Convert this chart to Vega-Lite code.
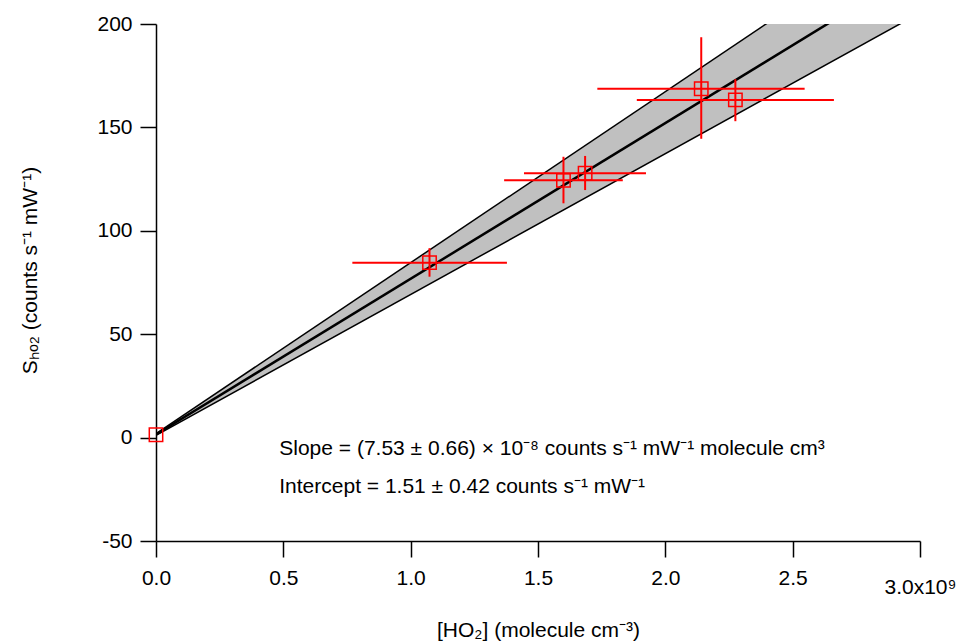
{
  "$schema": "https://vega.github.io/schema/vega-lite/v6.json",
  "width": 764,
  "height": 517,
  "autosize": "none",
  "padding": {"left": 156, "top": 24, "right": 41, "bottom": 102},
  "background": "white",
  "config": {
    "view": {"stroke": null},
    "font": "Liberation Sans",
    "axis": {
      "domainColor": "black",
      "domainWidth": 1.5,
      "tickColor": "black",
      "tickWidth": 1.5,
      "tickSize": 16,
      "grid": false,
      "labelFont": "Liberation Sans",
      "labelFontSize": 21,
      "labelColor": "black",
      "titleFont": "Liberation Sans",
      "titleFontSize": 21,
      "titleFontWeight": "normal",
      "titleColor": "black"
    }
  },
  "datasets": {
    "fit": [
      {"x": 0, "lo": 1.1, "hi": 1.9, "fit": 1.51},
      {"x": 3000000000, "lo": 205.4, "hi": 250.0, "fit": 227.4}
    ],
    "pts": [
      {"x": 0, "y": 1.4, "xlo": 0, "xhi": 0, "ylo": 1.4, "yhi": 1.4},
      {"x": 1074000000, "y": 84.6, "xlo": 771000000, "xhi": 1378000000, "ylo": 77.8, "yhi": 91.6},
      {"x": 1600000000, "y": 124.4, "xlo": 1367000000, "xhi": 1833000000, "ylo": 113.3, "yhi": 135.8},
      {"x": 1685000000, "y": 127.8, "xlo": 1445000000, "xhi": 1924000000, "ylo": 119.7, "yhi": 136.2},
      {"x": 2141000000, "y": 168.7, "xlo": 1733000000, "xhi": 2547000000, "ylo": 144.5, "yhi": 193.6},
      {"x": 2275000000, "y": 163.3, "xlo": 1888000000, "xhi": 2662000000, "ylo": 153.0, "yhi": 173.3}
    ],
    "notes": [
      {"x": 484000000, "y": -5.5, "label": "Slope = (7.53 ± 0.66) × 10⁻⁸ counts s⁻¹ mW⁻¹ molecule cm³"},
      {"x": 484000000, "y": -23.8, "label": "Intercept = 1.51 ± 0.42 counts s⁻¹ mW⁻¹"}
    ]
  },
  "layer": [
    {
      "data": {"name": "fit"},
      "mark": {"type": "area", "color": "#c0c0c0", "clip": true},
      "encoding": {
        "x": {
          "field": "x", "type": "quantitative",
          "scale": {"domain": [0, 3000000000], "nice": false, "zero": false},
          "axis": {
            "title": "[HO₂] (molecule cm⁻³)",
            "values": [0, 500000000, 1000000000, 1500000000, 2000000000, 2500000000, 3000000000],
            "labelExpr": "datum.value >= 3000000000 ? '3.0x10⁹' : format(datum.value / 1000000000, '.1f')",
            "labelPadding": {"condition": {"test": "datum.value >= 3000000000", "value": 19}, "value": 10},
            "labelFlush": false,
            "titlePadding": 22
          }
        },
        "y": {
          "field": "lo", "type": "quantitative",
          "scale": {"domain": [-50, 200], "nice": false, "zero": false},
          "axis": {
            "title": "Sₕₒ₂ (counts s⁻¹ mW⁻¹)",
            "values": [-50, 0, 50, 100, 150, 200],
            "labelExpr": "datum.value < 0 ? '-' + toString(-datum.value) : toString(datum.value)",
            "labelPadding": 8,
            "labelFlush": false,
            "titleX": -116,
            "titleY": 246,
            "titleAngle": -90,
            "titleAlign": "center",
            "titleBaseline": "bottom"
          }
        },
        "y2": {"field": "hi"}
      }
    },
    {
      "data": {"name": "fit"},
      "mark": {"type": "line", "color": "black", "strokeWidth": 1.5, "clip": true},
      "encoding": {
        "x": {"field": "x", "type": "quantitative"},
        "y": {"field": "lo", "type": "quantitative"}
      }
    },
    {
      "data": {"name": "fit"},
      "mark": {"type": "line", "color": "black", "strokeWidth": 1.5, "clip": true},
      "encoding": {
        "x": {"field": "x", "type": "quantitative"},
        "y": {"field": "hi", "type": "quantitative"}
      }
    },
    {
      "data": {"name": "fit"},
      "mark": {"type": "line", "color": "black", "strokeWidth": 2.5, "clip": true},
      "encoding": {
        "x": {"field": "x", "type": "quantitative"},
        "y": {"field": "fit", "type": "quantitative"}
      }
    },
    {
      "data": {"name": "pts"},
      "mark": {"type": "rule", "color": "#ff0000", "strokeWidth": 2},
      "encoding": {
        "x": {"field": "xlo", "type": "quantitative"},
        "x2": {"field": "xhi"},
        "y": {"field": "y", "type": "quantitative"}
      }
    },
    {
      "data": {"name": "pts"},
      "mark": {"type": "rule", "color": "#ff0000", "strokeWidth": 2},
      "encoding": {
        "x": {"field": "x", "type": "quantitative"},
        "y": {"field": "ylo", "type": "quantitative"},
        "y2": {"field": "yhi"}
      }
    },
    {
      "data": {"name": "pts"},
      "mark": {"type": "point", "shape": "square", "filled": false, "color": "#ff0000", "strokeWidth": 1.5, "size": 180, "opacity": 1},
      "encoding": {
        "x": {"field": "x", "type": "quantitative"},
        "y": {"field": "y", "type": "quantitative"}
      }
    },
    {
      "data": {"name": "notes"},
      "mark": {"type": "text", "align": "left", "baseline": "middle", "fontSize": 21, "font": "Liberation Sans", "color": "black"},
      "encoding": {
        "x": {"field": "x", "type": "quantitative"},
        "y": {"field": "y", "type": "quantitative"},
        "text": {"field": "label"}
      }
    }
  ]
}
